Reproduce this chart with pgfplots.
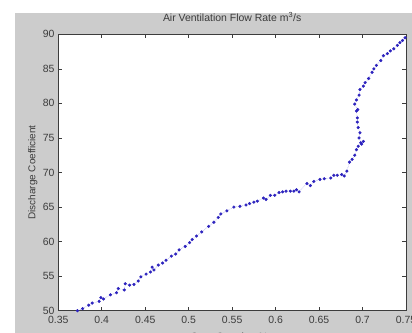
\documentclass[border=0pt]{standalone}
\usepackage{pgfplots}
\pgfplotsset{compat=1.18}
\usepackage{fontspec}
\setmainfont{Liberation Sans}
\definecolor{figgray}{RGB}{204,204,204}
\definecolor{axgray}{RGB}{60,60,60}
\definecolor{dotblue}{RGB}{45,35,190}
\definecolor{lineblue}{RGB}{150,150,235}
\begin{document}
\begin{tikzpicture}
\clip (0,0) rectangle (412bp,333bp);
\fill[white] (0,0) rectangle (412bp,333bp);
\fill[figgray] (15bp,0) rectangle (412bp,320.3bp);
\begin{axis}[
  at={(58.3bp,22.3bp)}, anchor=south west,
  scale only axis, width=347.7bp, height=276.4bp,
  xmin=0.35, xmax=0.75, ymin=50, ymax=90,
  xtick={0.35,0.4,0.45,0.5,0.55,0.6,0.65,0.7,0.75},
  xticklabels={0.35,0.4,0.45,0.5,0.55,0.6,0.65,0.7,0.75},
  ytick={50,55,60,65,70,75,80,85,90},
  tick align=inside,
  major tick length=4bp,
  axis line style={axgray, line width=0.8bp},
  every tick/.style={axgray, line width=0.6bp},
  axis background/.style={fill=white},
  tick label style={font=\fontsize{10.5}{12}\selectfont, text=axgray},
  /pgf/number format/assume math mode=true,
  xticklabel style={yshift=-1.5bp},
  yticklabel style={xshift=-0.3bp},
  title={Air Ventilation Flow Rate m\textsuperscript{3}/s},
  title style={font=\fontsize{10.5}{12}\selectfont, text=axgray, at={(0.5,1)}, anchor=base, yshift=6.5bp},
  xlabel={Gate Opening \%},
  xlabel style={font=\fontsize{10.5}{12}\selectfont, text=axgray, at={(axis description cs:0.5,0)}, anchor=north, yshift=-18.5bp, xshift=-3bp},
  ylabel={Discharge Coefficient},
  ylabel style={font=\fontsize{10}{12}\selectfont, text=axgray, at={(axis description cs:-0.0733,0.5)}, anchor=center},
  clip=false,
]
\addplot[lineblue, densely dotted, line width=0.5bp, mark=*, mark size=1.3bp, mark options={solid, fill=dotblue, draw=dotblue}] coordinates {
(0.372,50.0) (0.378,50.3) (0.385,50.8) (0.389,51.1) (0.397,51.35) (0.399,51.9)
(0.402,51.7) (0.410,52.3) (0.417,52.6) (0.419,53.2) (0.426,53.0) (0.427,53.9)
(0.432,53.7) (0.437,53.8) (0.442,54.3) (0.445,54.9) (0.451,55.3) (0.456,55.6)
(0.458,56.3) (0.460,55.9) (0.465,56.6) (0.470,56.9) (0.474,57.3) (0.480,57.9)
(0.485,58.2) (0.489,58.8) (0.496,59.3) (0.501,59.85) (0.504,60.3) (0.509,60.8)
(0.515,61.4) (0.523,62.2) (0.529,62.8) (0.534,63.5) (0.537,64.0) (0.544,64.45)
(0.552,65.0) (0.559,65.1) (0.566,65.3) (0.570,65.5) (0.575,65.7) (0.579,65.85)
(0.586,66.3) (0.589,66.1) (0.594,66.7) (0.599,66.7) (0.604,67.1) (0.608,67.2)
(0.612,67.3) (0.617,67.3) (0.621,67.3) (0.624,67.5) (0.627,67.2) (0.636,68.4)
(0.640,68.1) (0.644,68.7) (0.651,69.0) (0.656,69.1) (0.6635,69.2) (0.667,69.6)
(0.671,69.6) (0.676,69.7) (0.679,69.5) (0.682,70.2) (0.685,71.5) (0.688,71.9)
(0.691,72.5) (0.693,73.3) (0.695,73.8) (0.698,74.3) (0.701,74.5) (0.699,74.1)
(0.696,75.0) (0.697,75.75) (0.695,76.5) (0.694,77.3) (0.694,77.9) (0.693,78.9)
(0.6945,79.1) (0.691,79.9) (0.693,80.5) (0.696,81.2) (0.697,82.0) (0.701,82.5)
(0.703,83.0) (0.707,83.6) (0.711,84.5) (0.713,85.0) (0.716,85.5) (0.721,86.2)
(0.724,86.9) (0.7285,87.2) (0.732,87.6) (0.736,87.9) (0.740,88.4) (0.743,88.8)
(0.746,89.1) (0.749,89.5)
};
\end{axis}
\end{tikzpicture}
\end{document}
